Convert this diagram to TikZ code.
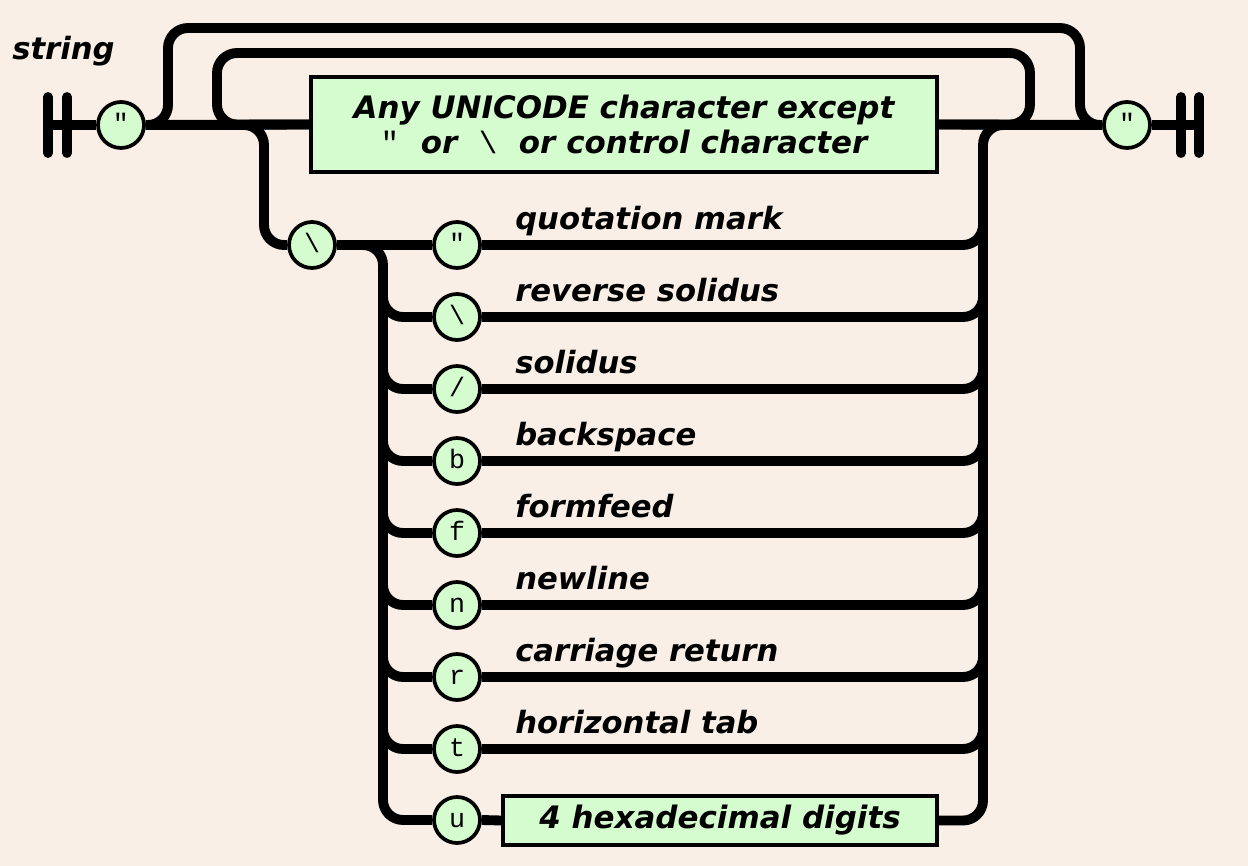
\documentclass[tikz,border=0pt]{standalone}
\usepackage{fontspec}
\setmainfont{DejaVu Sans}
\newfontfamily\railmono{Liberation Mono}
\definecolor{bgc}{RGB}{249,239,230}
\definecolor{boxg}{RGB}{212,252,206}
\begin{document}
\begin{tikzpicture}[x=0.75pt,y=-0.75pt,
  rail/.style={line width=7.4pt, rounded corners=15pt},
  bar/.style={line width=7.4pt, line cap=round},
  term/.style={circle, draw, line width=2.8pt, fill=boxg, minimum size=34.5pt, inner sep=0pt,
    text height=11pt, text depth=0pt, font=\railmono\fontsize{20}{20}\selectfont},
  nterm/.style={rectangle, draw, line width=2.4pt, fill=boxg, inner sep=0pt, align=center,
    font=\bfseries\itshape\fontsize{23.2}{27}\selectfont},
  lbl/.style={anchor=base west, inner sep=0pt, font=\bfseries\itshape\fontsize{23}{27}\selectfont}]
\fill[bgc] (0,0) rectangle (1248,866);
\useasboundingbox (0,0) rectangle (1248,866);

% title
\node[lbl] (title) at (12,60) {string};

% terminator bars
\coordinate (b1t) at (48,97);  \coordinate (b1b) at (48,153);
\coordinate (b2t) at (67,97);  \coordinate (b2b) at (67,153);
\coordinate (b3t) at (1181,97); \coordinate (b3b) at (1181,153);
\coordinate (b4t) at (1199,97); \coordinate (b4b) at (1199,153);
\coordinate (bstart) at (48,125);
\coordinate (bend) at (1199,125);

% nodes
\node[term] (qs) at (121,125) {"};
\node[term] (qe) at (1127,125) {"};
\node[nterm, minimum width=469.5pt, minimum height=71.25pt] (any) at (624,124.5)
  {Any UNICODE character except\\[-1pt]{\railmono\mdseries\upshape "}\ \ or\ \ {\railmono\mdseries\upshape\textbackslash}\ \ or control character};
\node[term] (bs) at (312,245) {\textbackslash};
\node[term] (e1) at (457,245) {"};
\node[term] (e2) at (457,317) {\textbackslash};
\node[term] (e3) at (457,389) {/};
\node[term] (e4) at (457,461) {b};
\node[term] (e5) at (457,533) {f};
\node[term] (e6) at (457,605) {n};
\node[term] (e7) at (457,677) {r};
\node[term] (e8) at (457,749) {t};
\node[term] (e9) at (457,820) {u};
\node[nterm, minimum width=325.5pt, minimum height=36.75pt] (hex) at (720,820.5) {4 hexadecimal digits};

% labels
\node[lbl] (l1) at (515,229) {quotation mark};
\node[lbl] (l2) at (515,301) {reverse solidus};
\node[lbl] (l3) at (515,373) {solidus};
\node[lbl] (l4) at (515,445) {backspace};
\node[lbl] (l5) at (515,517) {formfeed};
\node[lbl] (l6) at (515,589) {newline};
\node[lbl] (l7) at (515,661) {carriage return};
\node[lbl] (l8) at (515,733) {horizontal tab};

% bars
\draw[bar] (b1t) -- (b1b);
\draw[bar] (b2t) -- (b2b);
\draw[bar] (b3t) -- (b3b);
\draw[bar] (b4t) -- (b4b);

% main line
\draw[rail] (bstart) -- (qs.west);
\draw[rail] (qs.east) -- (any.west);
\draw[rail] (any.east) -- (qe.west);
\draw[rail] (qe.east) -- (bend);

% outer bypass (empty string)
\coordinate (oL) at (168,28); \coordinate (oR) at (1080,28);
\draw[rail] (qs.east) -| (oL) -- (oR) |- (qe.west);

% inner repeat loop
\coordinate (iL) at (217,53); \coordinate (iR) at (1030,53);
\draw[rail] (any.east) -| (iR) -- (iL) |- (any.west);

% escape branch
\coordinate (bsv) at (264,245);
\draw[rail] (qs.east) -| (bsv) -- (bs.west);
\draw[rail] (bs.east) -- (e1.west);
\coordinate (lv) at (383,820);
\draw[rail] (bs.east) -| (lv) -- (e9.west);
\coordinate (lvtop) at (383,275);
\foreach \i in {2,...,8} { \draw[rail] (lvtop) |- (e\i.west); }
\draw[rail] (e9.east) -- (hex.west);

% collector
\coordinate (rv) at (983,125);
\draw[rail] (hex.east) -| (rv) -- (qe.west);
\coordinate (rvtop) at (983,200);
\foreach \i in {1,...,8} { \draw[rail] (e\i.east) -| (rvtop); }
\end{tikzpicture}
\end{document}
